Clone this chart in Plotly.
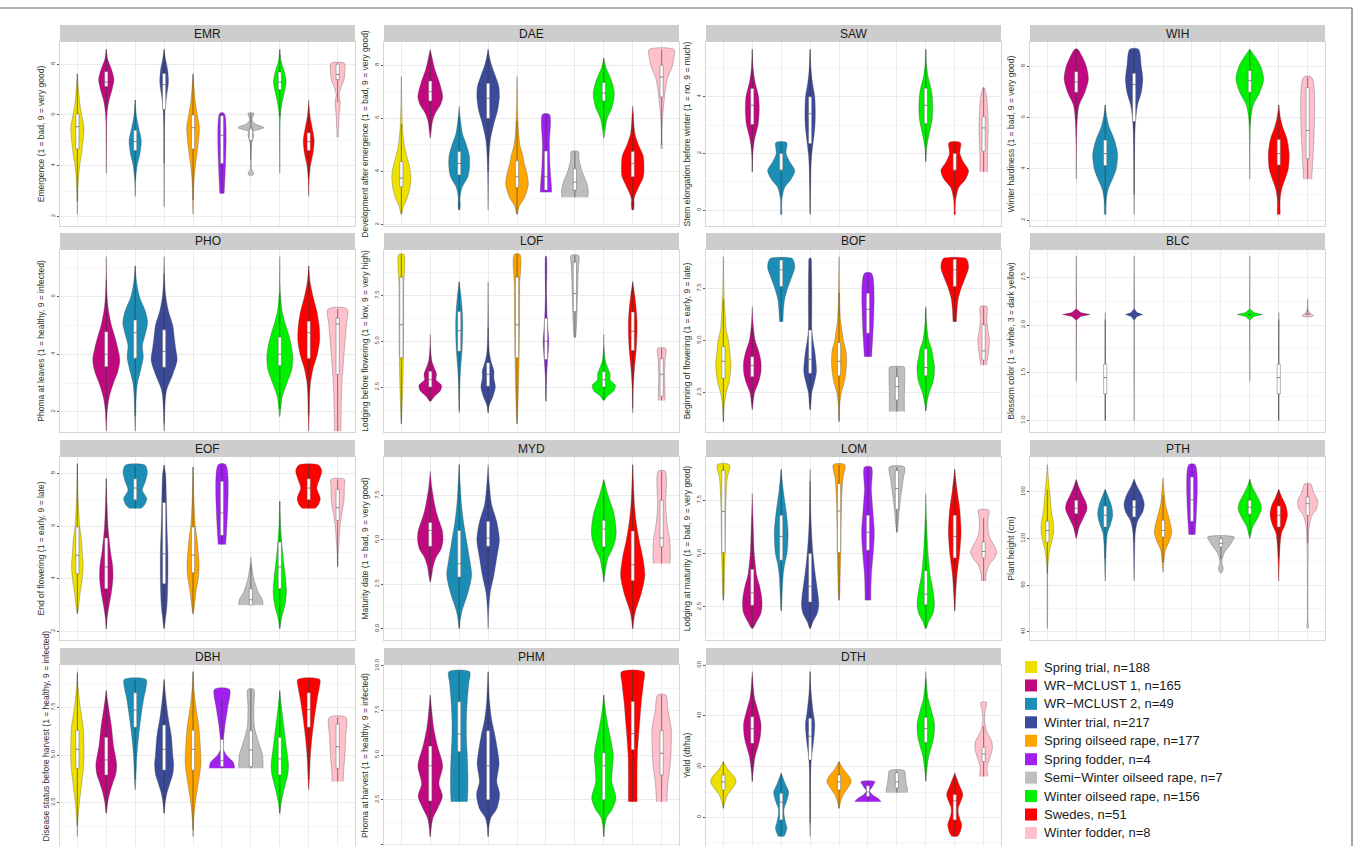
import plotly.graph_objects as go

# ---------------- data ----------------
GROUPS = ["Spring trial", "WR\u2212MCLUST 1", "WR\u2212MCLUST 2", "Winter trial",
          "Spring oilseed rape", "Spring fodder", "Semi\u2212Winter oilseed rape",
          "Winter oilseed rape", "Swedes", "Winter fodder"]
GROUP_N = [188, 165, 49, 217, 177, 4, 7, 156, 51, 8]
COLORS = ["#EEE000", "#C0087F", "#1C8DB5", "#3B4A9B", "#FFA500",
          "#A020F0", "#BEBEBE", "#00F000", "#FF0000", "#FFC0CB"]

TRAITS = ["EMR", "DAE", "SAW", "WIH", "PHO", "LOF", "BOF", "BLC",
          "EOF", "MYD", "LOM", "PTH", "DBH", "PHM", "DTH"]
Y_TITLES = ["Emergence (1 = bad, 9 = very good)",
            "Development after emergence (1 = bad, 9 = very good)",
            "Stem elongation before winter (1 = no, 9 = much)",
            "Winter hardiness (1 = bad, 9 = very good)",
            "Phoma at leaves (1 = healthy, 9 = infected)",
            "Lodging before flowering (1 = low, 9 = very high)",
            "Beginning of flowering (1 = early, 9 = late)",
            "Blossom color (1 = white, 3 = dark yellow)",
            "End of flowering (1 = early, 9 = late)",
            "Maturity date (1 = bad, 9 = very good)",
            "Lodging at maturity (1 = bad, 9 = very good)",
            "Plant height (cm)",
            "Disease status before harvest (1 = healthy, 9 = infected)",
            "Phoma at harvest (1 = healthy, 9 = infected)",
            "Yield (dt/ha)"]
Y_RANGES = [[1.62, 8.88], [1.95, 8.87], [-0.56, 5.93], [1.77, 8.96],
            [1.30, 7.62], [0.05, 9.98], [0.6, 9.35], [0.88, 2.785],
            [1.67, 8.63], [-0.64, 9.66], [0.95, 9.53], [33.1, 190.0],
            [0.21, 9.74], [-0.09, 10.04], [-11.3, 60.1]]
Y_STEPS = [2, 2, 2, 2, 2, 2.5, 2.5, 0.5, 2, 2.5, 2.5, 40, 2.5, 2.5, 20]
Y_FORMATS = ["d", "d", "d", "d", "d", ".1f", ".1f", ".1f", "d", ".1f", ".1f", "d", ".1f", ".1f", "d"]

# violin outlines: group -> (y knots, half widths in category units)
EMR_SHAPES = {
    1: ([2.08, 3.0, 3.5, 4.0, 4.5, 5.0, 5.5, 6.0, 6.5, 7.0, 7.62], [0, .02, .04, .08, .15, .2, .23, .15, .08, .04, 0]),
    2: ([3.7, 5.0, 5.8, 6.2, 6.6, 7.0, 7.4, 7.8, 8.2, 8.59], [0, .008, .015, .04, .1, .2, .265, .18, .05, 0]),
    3: ([2.78, 3.5, 4.0, 4.5, 5.0, 5.5, 6.0, 6.59], [0, .02, .07, .17, .21, .12, .04, 0]),
    4: ([2.38, 4.0, 5.5, 6.2, 6.7, 7.3, 7.8, 8.2, 8.59], [0, .005, .01, .03, .08, .15, .12, .05, 0]),
    5: ([2.08, 3.0, 3.5, 4.0, 4.5, 5.0, 5.5, 6.0, 6.5, 7.0, 7.62], [0, .02, .04, .08, .14, .19, .22, .15, .08, .04, 0]),
    6: ([2.9, 6.07], [.075, .075]),
    7: ([3.59, 3.68, 3.85, 4.1, 4.7, 5.0, 5.2, 5.35, 5.5, 5.65, 5.8, 6.07], [.03, .1, .03, .01, .01, .05, .1, .08, .45, .15, .04, .1]),
    8: ([3.7, 5.0, 5.8, 6.2, 6.6, 7.0, 7.3, 7.7, 8.1, 8.59], [0, .008, .015, .04, .1, .18, .22, .16, .05, 0]),
    9: ([2.78, 3.5, 4.0, 4.5, 5.0, 5.5, 6.0, 6.59], [0, .02, .06, .15, .19, .12, .04, 0]),
    10: ([5.12, 5.3, 5.6, 6.0, 6.5, 6.8, 7.1, 7.4, 7.7, 8.04], [.03, .02, .04, .05, .09, .05, .12, .22, .25, .23]),
}
EMR_BOXES = {1: (4.66, 5.54, 6.04), 2: (7.12, 7.3, 7.71), 3: (4.6, 4.95, 5.4), 4: (6.22, 7.2, 7.64),
             5: (4.66, 5.5, 6.0), 6: (4.09, 5.2, 5.97), 7: (5.0, 5.45, 5.5), 8: (7.0, 7.3, 7.7),
             9: (4.6, 4.95, 5.3), 10: (7.4, 7.6, 8.0)}

DAE_SHAPES = {
    1: ([2.39, 2.7, 3.0, 3.4, 3.8, 4.2, 4.6, 5.0, 5.5, 6.0, 6.5, 7.0, 7.57], [0, .08, .2, .3, .33, .28, .18, .1, .05, .03, .015, .01, 0]),
    2: ([5.25, 5.6, 5.9, 6.2, 6.5, 6.8, 7.1, 7.4, 7.7, 8.0, 8.3, 8.59], [0, .04, .08, .18, .35, .43, .38, .3, .2, .12, .06, 0]),
    3: ([2.55, 2.7, 3.0, 3.4, 3.8, 4.2, 4.6, 5.0, 5.4, 5.8, 6.2, 6.46], [.02, .04, .03, .1, .3, .36, .35, .25, .12, .06, .02, 0]),
    4: ([2.55, 3.5, 4.5, 5.2, 5.8, 6.3, 6.8, 7.2, 7.6, 8.0, 8.3, 8.59], [0, .01, .03, .08, .2, .33, .39, .37, .25, .12, .05, 0]),
    5: ([2.39, 2.7, 3.0, 3.5, 3.9, 4.3, 4.6, 5.0, 5.5, 6.0, 6.5, 7.0, 7.57], [0, .08, .25, .39, .35, .25, .2, .1, .05, .03, .015, .01, 0]),
    6: ([3.22, 3.6, 4.2, 5.0, 6.15], [.2, .18, .14, .12, .12]),
    7: ([3.03, 3.3, 3.6, 4.0, 4.4, 4.75], [.45, .46, .4, .25, .15, .12]),
    8: ([5.25, 5.6, 6.0, 6.4, 6.8, 7.0, 7.3, 7.6, 7.9, 8.26], [0, .05, .12, .28, .36, .36, .3, .2, .08, 0]),
    9: ([2.55, 2.7, 3.0, 3.4, 3.8, 4.2, 4.6, 5.0, 5.4, 5.8, 6.2, 6.46], [.03, .05, .05, .2, .37, .39, .36, .2, .08, .04, .02, 0]),
    10: ([4.85, 5.2, 5.8, 6.4, 7.0, 7.5, 7.9, 8.3, 8.59], [.03, .01, .02, .06, .12, .2, .35, .43, .43]),
}
DAE_BOXES = {1: (3.43, 3.75, 4.37), 2: (6.65, 7.0, 7.4), 3: (3.87, 4.3, 4.75), 4: (6.0, 6.75, 7.32),
             5: (3.4, 3.8, 4.4), 6: (3.3, 3.8, 4.77), 7: (3.3, 3.6, 4.1), 8: (6.65, 6.95, 7.35),
             9: (3.8, 4.3, 4.75), 10: (6.8, 7.55, 8.0)}

SAW_SHAPES = {
    2: ([1.35, 2.0, 2.5, 3.0, 3.5, 4.0, 4.5, 5.0, 5.67], [0, .02, .08, .2, .24, .22, .1, .03, 0]),
    3: ([-0.15, 0.0, 0.4, 0.8, 1.1, 1.4, 1.7, 2.0, 2.38], [.03, .02, .03, .12, .35, .47, .3, .17, .19]),
    4: ([-0.15, 0.5, 1.0, 1.5, 2.0, 2.5, 3.0, 3.5, 4.0, 4.5, 5.0, 5.67], [0, .01, .02, .03, .06, .12, .17, .18, .16, .08, .03, 0]),
    8: ([1.71, 2.2, 2.7, 3.2, 3.7, 4.2, 4.7, 5.2, 5.67], [0, .03, .12, .22, .24, .2, .08, .02, 0]),
    9: ([-0.15, 0.0, 0.4, 0.8, 1.1, 1.4, 1.7, 2.0, 2.38], [.03, .02, .04, .14, .38, .48, .3, .18, .2]),
    10: ([1.35, 2.0, 2.5, 3.0, 3.5, 4.0, 4.32], [.13, .13, .15, .16, .14, .1, .02]),
}
SAW_BOXES = {2: (3.02, 3.7, 4.29), 3: (1.4, 1.42, 2.0), 4: (2.35, 3.4, 4.0),
             8: (3.05, 3.7, 4.3), 9: (1.4, 1.42, 2.0), 10: (2.08, 2.9, 3.29)}

WIH_SHAPES = {
    2: ([3.6, 5.0, 6.0, 6.5, 7.0, 7.5, 8.0, 8.4, 8.68], [0, .01, .04, .1, .3, .42, .35, .2, .05]),
    3: ([2.22, 2.4, 2.8, 3.2, 3.6, 4.0, 4.6, 5.2, 5.6, 6.0, 6.5], [.03, .03, .04, .1, .25, .38, .43, .3, .15, .06, 0]),
    4: ([2.22, 4.0, 5.5, 6.0, 6.5, 7.0, 7.5, 8.0, 8.68], [0, .01, .03, .06, .12, .25, .3, .25, .15]),
    8: ([3.6, 5.0, 6.0, 6.5, 7.0, 7.5, 8.0, 8.4, 8.68], [0, .01, .04, .12, .35, .48, .38, .18, 0]),
    9: ([2.22, 2.4, 2.8, 3.2, 3.6, 4.0, 4.6, 5.2, 5.6, 6.0, 6.5], [.05, .05, .05, .1, .22, .33, .36, .28, .15, .06, 0]),
    10: ([3.6, 7.58], [.14, .14]),
}
WIH_BOXES = {2: (7.0, 7.4, 7.8), 3: (4.13, 4.6, 5.13), 4: (5.85, 7.3, 7.74),
             8: (7.0, 7.45, 7.85), 9: (4.15, 4.6, 5.15), 10: (4.4, 5.5, 7.18)}

PHO_SHAPES = {
    2: ([1.33, 2.0, 2.5, 3.0, 3.4, 3.8, 4.2, 4.6, 5.0, 5.5, 6.0, 6.5, 7.39], [0, .03, .1, .25, .4, .47, .4, .3, .18, .08, .03, .01, 0]),
    3: ([1.33, 2.0, 2.6, 3.0, 3.5, 3.9, 4.3, 4.7, 5.1, 5.5, 6.0, 6.5, 7.07], [0, .02, .04, .08, .2, .28, .25, .35, .43, .35, .15, .05, 0]),
    4: ([1.33, 2.0, 2.5, 2.8, 3.3, 3.8, 4.2, 4.6, 5.0, 5.5, 6.0, 6.5, 7.39], [0, .02, .05, .1, .3, .45, .4, .35, .3, .15, .06, .02, 0]),
    8: ([1.83, 2.5, 3.0, 3.5, 3.9, 4.3, 4.7, 5.1, 5.5, 6.0, 6.5, 7.39], [0, .08, .25, .42, .45, .4, .3, .18, .08, .03, .01, 0]),
    9: ([1.33, 2.0, 2.5, 3.0, 3.5, 4.0, 4.5, 5.0, 5.5, 6.0, 6.5, 7.07], [0, .02, .03, .06, .15, .3, .38, .36, .28, .15, .05, 0]),
    10: ([1.33, 2.0, 3.0, 4.0, 5.0, 5.57], [.11, .12, .15, .22, .3, .33]),
}
PHO_BOXES = {2: (3.57, 4.0, 4.78), 3: (3.86, 4.75, 5.19), 4: (3.55, 4.1, 4.85),
             8: (3.6, 4.0, 4.6), 9: (3.85, 4.75, 5.15), 10: (3.3, 5.05, 5.25)}

LOF_SHAPES = {
    1: ([0.5, 2.0, 4.0, 6.0, 8.0, 9.74], [0, .04, .07, .08, .08, .085]),
    2: ([1.72, 2.0, 2.3, 2.6, 2.9, 3.2, 3.5, 3.9, 4.4, 5.39], [0, .15, .35, .39, .2, .22, .15, .06, .02, 0]),
    3: ([1.1, 2.5, 3.5, 4.5, 5.5, 6.1, 6.8, 7.5, 8.25], [0, .02, .05, .1, .12, .12, .1, .06, 0]),
    4: ([1.1, 1.5, 2.0, 2.5, 3.0, 3.4, 3.8, 4.3, 5.0, 6.0, 7.0, 8.25], [0, .04, .17, .25, .2, .2, .12, .05, .02, .01, .005, 0]),
    5: ([0.5, 2.0, 4.0, 6.0, 8.0, 9.74], [0, .04, .07, .085, .09, .1]),
    6: ([1.72, 3.0, 4.0, 5.0, 6.0, 7.5, 9.65], [0, .02, .06, .1, .05, .02, .01]),
    7: ([5.2, 6.0, 7.0, 8.0, 9.0, 9.68], [.03, .06, .08, .1, .12, .13]),
    8: ([1.77, 2.0, 2.3, 2.6, 2.9, 3.2, 3.5, 3.9, 4.4, 5.39], [0, .12, .35, .4, .22, .22, .15, .06, .02, 0]),
    9: ([1.1, 2.5, 3.5, 4.5, 5.5, 6.1, 6.8, 7.5, 8.25], [0, .02, .06, .12, .15, .15, .12, .07, 0]),
    10: ([1.77, 2.5, 3.2, 4.0, 4.61], [.12, .11, .1, .12, .14]),
}
LOF_BOXES = {1: (4.1, 5.9, 8.5), 2: (2.5, 2.9, 3.36), 3: (4.46, 5.58, 6.62), 4: (2.55, 3.2, 3.83),
             5: (4.1, 5.9, 8.5), 6: (4.01, 5.0, 6.25), 7: (6.62, 7.6, 9.31), 8: (2.5, 2.9, 3.35),
             9: (4.5, 5.55, 6.6), 10: (2.0, 3.2, 4.05)}

BOF_SHAPES = {
    1: ([1.1, 2.0, 2.5, 3.0, 3.5, 4.0, 4.5, 5.0, 5.5, 6.5, 7.5, 9.03], [0, .04, .1, .2, .25, .26, .22, .18, .1, .05, .02, 0]),
    2: ([1.66, 2.0, 2.5, 3.0, 3.5, 4.0, 4.5, 5.0, 5.5, 6.0, 6.63], [0, .03, .08, .22, .3, .3, .22, .1, .05, .02, 0]),
    3: ([5.9, 6.5, 7.0, 7.5, 8.0, 8.5, 8.8, 8.95], [.06, .08, .12, .22, .35, .47, .44, .37]),
    4: ([1.66, 2.0, 2.5, 3.0, 3.5, 4.0, 4.5, 5.0, 5.5, 6.5, 7.5, 8.5, 8.95], [0, .03, .06, .15, .22, .2, .16, .1, .06, .06, .06, .05, .03]),
    5: ([1.1, 2.0, 2.5, 3.0, 3.5, 4.0, 4.5, 5.0, 5.5, 6.0, 7.0, 9.03], [0, .03, .08, .18, .24, .26, .24, .15, .1, .05, .02, 0]),
    6: ([4.22, 8.23], [.125, .125]),
    7: ([1.58, 2.0, 2.5, 3.0, 3.5, 3.71], [.26, .26, .26, .27, .27, .26]),
    8: ([1.61, 2.0, 2.5, 3.0, 3.5, 3.8, 4.2, 4.6, 5.0, 5.5, 6.0, 6.63], [0, .04, .12, .25, .3, .3, .25, .2, .1, .05, .02, 0]),
    9: ([5.9, 6.5, 7.0, 7.5, 8.0, 8.5, 8.8, 8.95], [.06, .08, .12, .22, .36, .48, .45, .38]),
    10: ([3.82, 4.2, 4.6, 5.0, 5.5, 6.0, 6.63], [.1, .14, .18, .2, .15, .11, .11]),
}
BOF_BOXES = {1: (3.18, 4.0, 4.7), 2: (3.26, 3.8, 4.22), 3: (7.59, 8.4, 8.87), 4: (3.42, 4.1, 5.5),
             5: (3.3, 4.0, 4.9), 6: (5.35, 6.5, 7.27), 7: (2.14, 2.78, 3.26), 8: (3.3, 3.7, 4.6),
             9: (7.6, 8.4, 8.9), 10: (4.06, 4.5, 5.75)}

BLC_SHAPES = {
    2: ([1.41, 2.05, 2.09, 2.11, 2.13, 2.17, 2.72], [0, .005, .15, .48, .15, .005, 0]),
    3: ([1.0, 2.13], [.004, .004]),
    4: ([1.0, 2.05, 2.09, 2.11, 2.13, 2.17, 2.72], [0, .005, .1, .3, .1, .005, 0]),
    8: ([1.41, 2.05, 2.09, 2.11, 2.13, 2.17, 2.72], [0, .005, .14, .44, .14, .005, 0]),
    9: ([1.0, 2.13], [.004, .004]),
    10: ([2.08, 2.1, 2.12, 2.15, 2.27], [.1, .2, .1, .02, 0]),
}
BLC_BOXES = {2: (2.11, 2.11, 2.11), 3: (1.28, 1.45, 1.59), 4: (2.11, 2.11, 2.11),
             8: (2.11, 2.11, 2.11), 9: (1.28, 1.45, 1.59), 10: (2.09, 2.11, 2.12)}

EOF_SHAPES = {
    1: ([2.67, 3.0, 3.5, 4.0, 4.5, 5.0, 5.5, 6.0, 7.0, 8.38], [0, .05, .1, .17, .2, .17, .14, .08, .03, 0]),
    2: ([2.1, 2.5, 3.0, 3.5, 4.0, 4.5, 5.0, 5.5, 6.0, 7.0, 7.81], [0, .03, .1, .18, .23, .22, .15, .1, .06, .02, 0]),
    3: ([6.67, 6.8, 7.05, 7.37, 7.7, 8.06, 8.32], [.2, .32, .4, .25, .35, .42, .34]),
    4: ([2.1, 2.5, 3.0, 4.0, 5.0, 6.0, 7.0, 8.0, 8.32], [0, .05, .1, .13, .13, .1, .08, .05, 0]),
    5: ([2.67, 3.0, 3.5, 4.0, 4.5, 5.0, 5.5, 6.0, 7.0, 8.25], [0, .05, .1, .18, .21, .18, .14, .08, .03, 0]),
    6: ([5.3, 8.34], [.13, .13]),
    7: ([3.0, 3.2, 3.5, 4.0, 4.4, 4.83], [.42, .4, .25, .1, .04, 0]),
    8: ([2.1, 2.5, 3.0, 3.5, 4.0, 4.5, 5.0, 5.5, 6.0, 6.95], [0, .06, .18, .23, .2, .15, .1, .06, .03, 0]),
    9: ([6.67, 6.8, 7.05, 7.45, 7.8, 8.1, 8.32], [.22, .33, .4, .28, .38, .45, .35]),
    10: ([4.45, 5.0, 5.5, 6.0, 6.5, 7.0, 7.5, 7.78], [0, .02, .05, .08, .15, .22, .23, .23]),
}
EOF_BOXES = {1: (4.19, 4.89, 5.97), 2: (3.62, 4.45, 5.55), 3: (7.0, 7.45, 7.8), 4: (3.81, 4.95, 6.9),
             5: (4.23, 4.9, 5.97), 6: (5.65, 6.5, 7.71), 7: (3.0, 3.2, 3.62), 8: (3.62, 4.45, 5.4),
             9: (7.0, 7.45, 7.8), 10: (6.22, 6.7, 7.4)}

MYD_SHAPES = {
    2: ([2.63, 3.0, 3.5, 4.0, 4.5, 5.0, 5.5, 6.0, 6.5, 7.0, 8.0, 8.86], [0, .05, .1, .2, .38, .44, .42, .32, .22, .15, .05, 0]),
    3: ([0, 0.5, 1.0, 2.0, 3.0, 4.0, 5.0, 6.0, 7.0, 8.0, 9.23], [0, .04, .1, .3, .43, .35, .25, .15, .08, .04, 0]),
    4: ([0, 1.0, 2.0, 3.0, 4.0, 5.0, 6.0, 7.0, 8.0, 9.23], [0, .02, .07, .2, .3, .39, .3, .12, .05, 0]),
    8: ([2.63, 3.0, 3.5, 4.0, 4.5, 5.0, 5.5, 6.5, 7.5, 8.4], [0, .03, .08, .15, .3, .4, .43, .35, .15, 0]),
    9: ([0, 0.5, 1.0, 2.0, 3.0, 4.0, 5.0, 6.0, 7.0, 8.0, 9.23], [0, .04, .1, .3, .42, .35, .22, .12, .06, .03, 0]),
    10: ([3.66, 4.0, 5.0, 6.0, 7.0, 8.86], [.28, .3, .28, .18, .14, .12]),
}
MYD_BOXES = {2: (4.63, 5.53, 5.97), 3: (2.9, 3.66, 5.53), 4: (4.63, 5.1, 6.04),
             8: (4.6, 5.6, 6.1), 9: (2.7, 3.6, 5.5), 10: (4.6, 5.1, 7.22)}

LOM_SHAPES = {
    1: ([2.81, 3.0, 4.0, 5.0, 6.0, 7.5, 8.5, 9.17], [0, .02, .04, .06, .07, .09, .13, .21]),
    2: ([1.48, 1.8, 2.2, 2.6, 3.0, 3.5, 4.0, 5.0, 6.0, 7.81], [0, .15, .3, .34, .32, .25, .15, .07, .04, 0]),
    3: ([2.31, 3.0, 4.0, 4.5, 5.0, 6.0, 7.0, 8.0, 8.95], [0, .03, .07, .12, .2, .24, .17, .07, 0]),
    4: ([1.48, 1.8, 2.2, 2.6, 3.0, 4.0, 5.0, 6.0, 7.0, 8.95], [0, .1, .25, .3, .28, .18, .1, .05, .02, 0]),
    5: ([2.81, 3.0, 4.0, 5.0, 6.0, 7.5, 8.5, 9.17], [0, .02, .04, .06, .07, .09, .13, .2]),
    6: ([2.81, 3.0, 4.0, 5.0, 6.0, 7.0, 8.0, 9.06], [.1, .1, .12, .18, .22, .17, .12, .12]),
    7: ([6.0, 6.5, 7.0, 7.5, 8.0, 8.5, 9.06], [0, .05, .08, .12, .17, .22, .26]),
    8: ([1.48, 1.8, 2.2, 2.6, 3.0, 3.5, 4.0, 5.0, 6.0, 7.81], [0, .1, .25, .3, .28, .22, .15, .08, .04, 0]),
    9: ([2.31, 3.0, 4.0, 5.0, 6.0, 7.0, 8.0, 8.95], [0, .03, .08, .17, .22, .18, .08, 0]),
    10: ([3.72, 4.0, 4.5, 4.8, 5.1, 5.4, 5.8, 6.2, 6.6, 7.03], [.08, .08, .2, .38, .45, .35, .2, .15, .15, .18]),
}
LOM_BOXES = {1: (5.05, 6.98, 8.9), 2: (2.58, 3.16, 4.27), 3: (4.69, 5.8, 6.8), 4: (2.73, 3.47, 5.0),
             5: (5.05, 7.0, 8.28), 6: (5.16, 6.0, 6.8), 7: (7.08, 8.05, 8.9), 8: (2.6, 3.1, 4.2),
             9: (4.8, 5.8, 6.8), 10: (4.8, 5.1, 5.55)}

PTH_SHAPES = {
    1: ([42.9, 60, 90, 100, 110, 120, 127, 135, 145, 155, 170, 183.4], [0, .01, .01, .03, .08, .18, .22, .2, .13, .1, .04, 0]),
    2: ([120, 125, 130, 138, 145, 150, 158, 165, 170.9], [0, .05, .1, .25, .37, .35, .2, .08, 0]),
    3: ([83.7, 100, 115, 125, 132, 140, 148, 155, 162.3], [0, .02, .04, .08, .18, .26, .22, .12, 0]),
    4: ([83.7, 110, 125, 135, 143, 150, 158, 165, 170.9], [0, .02, .04, .12, .3, .35, .25, .1, 0]),
    5: ([91.4, 100, 110, 118, 125, 130, 140, 150, 160, 172], [0, .03, .08, .22, .3, .28, .18, .08, .04, 0]),
    6: ([123.4, 183.4], [.11, .11]),
    7: ([90.6, 92, 95, 98, 103, 108, 114, 118, 121.4], [0, .06, .08, .04, .05, .12, .3, .4, .46]),
    8: ([120, 125, 130, 138, 145, 150, 158, 165, 170.9], [0, .05, .1, .28, .4, .38, .22, .08, 0]),
    9: ([83.7, 100, 115, 125, 132, 140, 148, 155, 162.3], [0, .02, .05, .1, .22, .3, .25, .12, 0]),
    10: ([42.9, 45, 50, 60, 110, 130, 140, 145, 152, 160, 167], [.02, .03, .01, .01, .02, .05, .15, .3, .35, .2, .1]),
}
PTH_BOXES = {1: (117, 127, 135), 2: (141.4, 146, 152.9), 3: (130, 140, 148), 4: (138.6, 147, 153),
             5: (121.4, 127, 135.7), 6: (134.9, 153.4, 172.9), 7: (112.9, 116, 120), 8: (141, 147, 153),
             9: (130, 140, 148), 10: (140, 150, 155.7)}

DBH_SHAPES = {
    1: ([0.7, 1.5, 2.5, 3.5, 4.5, 5.5, 6.5, 7.5, 8.5, 9.39], [0, .02, .07, .15, .22, .23, .2, .1, .03, 0]),
    2: ([1.93, 2.5, 3.0, 3.5, 4.0, 4.5, 5.5, 6.5, 7.5, 8.39], [0, .05, .12, .22, .33, .36, .25, .18, .08, 0]),
    3: ([3.16, 4.0, 5.0, 6.0, 7.0, 8.0, 8.5, 8.98], [0, .03, .06, .12, .2, .3, .37, .38]),
    4: ([1.93, 2.5, 3.0, 3.5, 4.0, 4.5, 5.0, 6.0, 7.0, 8.0, 8.98], [0, .04, .1, .2, .3, .33, .3, .25, .14, .06, 0]),
    5: ([0.7, 1.5, 2.5, 3.5, 4.5, 5.5, 6.5, 7.5, 8.5, 9.39], [0, .02, .08, .18, .27, .25, .2, .1, .03, 0]),
    6: ([4.3, 4.6, 5.0, 5.3, 5.5, 6.5, 7.5, 8.46], [.44, .4, .15, .05, .04, .1, .2, .26]),
    7: ([4.3, 4.6, 5.0, 5.5, 6.0, 6.5, 7.5, 8.46], [.42, .42, .4, .3, .2, .12, .1, .1]),
    8: ([1.93, 2.5, 3.0, 3.5, 4.0, 4.5, 5.5, 6.5, 7.5, 8.39], [0, .05, .12, .2, .28, .3, .22, .14, .06, 0]),
    9: ([3.16, 4.0, 5.0, 6.0, 7.0, 8.0, 8.5, 8.98], [0, .03, .06, .12, .2, .3, .36, .38]),
    10: ([3.6, 4.0, 5.0, 6.0, 6.98], [.19, .2, .25, .28, .29]),
}
DBH_BOXES = {1: (4.3, 5.3, 6.3), 2: (3.95, 4.74, 5.93), 3: (6.46, 7.37, 8.28), 4: (4.21, 5.3, 6.58),
             5: (4.2, 5.3, 6.3), 6: (4.39, 4.7, 5.82), 7: (4.4, 5.26, 6.28), 8: (3.95, 4.8, 5.93),
             9: (6.46, 7.4, 8.28), 10: (4.3, 5.44, 6.63)}

PHM_SHAPES = {
    2: ([0.43, 1.0, 1.5, 2.0, 2.7, 3.4, 4.4, 5.5, 6.5, 7.5, 8.36], [0, .04, .1, .25, .42, .3, .43, .25, .12, .05, 0]),
    3: ([2.39, 3.0, 4.0, 5.0, 6.0, 7.0, 8.0, 9.0, 9.66], [.28, .3, .3, .28, .25, .25, .28, .33, .36]),
    4: ([0.43, 1.0, 1.5, 2.0, 2.8, 3.5, 4.5, 5.0, 6.0, 7.0, 8.0, 9.66], [0, .03, .1, .3, .4, .3, .38, .35, .25, .12, .05, 0]),
    8: ([0.43, 1.0, 1.5, 2.0, 2.6, 3.5, 4.3, 5.0, 5.8, 6.6, 7.5, 8.36], [0, .03, .1, .3, .42, .28, .3, .33, .25, .15, .06, 0]),
    9: ([2.39, 3.0, 4.0, 5.0, 6.0, 7.0, 8.0, 9.0, 9.66], [.15, .15, .15, .16, .2, .25, .3, .37, .39]),
    10: ([2.39, 3.5, 4.5, 5.5, 6.5, 7.5, 8.36], [.18, .22, .3, .33, .33, .22, .14]),
}
PHM_BOXES = {2: (2.43, 4.4, 5.5), 3: (5.19, 6.18, 7.99), 4: (2.5, 4.4, 6.36),
             8: (2.5, 4.4, 5.13), 9: (5.3, 6.2, 8.0), 10: (3.88, 5.1, 6.36)}

DTH_SHAPES = {
    1: ([3.55, 6, 9, 12, 14, 16, 19, 22], [0, .05, .15, .35, .44, .38, .15, 0]),
    2: ([14.1, 17, 20, 24, 28, 32, 37, 42, 47, 52, 57.5], [0, .02, .05, .1, .2, .28, .3, .2, .08, .03, 0]),
    3: ([-7.6, -6, -4.3, -2, 1, 3.6, 6, 10, 13, 17.4], [.1, .16, .2, .15, .1, .1, .18, .26, .15, 0]),
    4: ([-7.6, 0, 10, 18, 24, 30, 37, 42, 50, 57.5], [0, .01, .015, .02, .05, .12, .16, .1, .03, 0]),
    5: ([3.55, 6, 9, 12, 14, 16, 19, 22], [0, .05, .15, .33, .42, .36, .15, 0]),
    6: ([6.2, 7.5, 9, 10.5, 12, 14.1], [.46, .35, .15, .06, .15, .24]),
    7: ([9.7, 11, 13, 16, 18.4], [.35, .37, .33, .3, .26]),
    8: ([14.1, 17, 20, 24, 28, 32, 37, 42, 47, 52, 57.5], [0, .02, .05, .1, .2, .28, .3, .2, .08, .03, 0]),
    9: ([-7.6, -6, -3, 0, 2, 4, 6, 9, 13, 17.4], [.1, .18, .24, .16, .12, .13, .2, .28, .15, 0]),
    10: ([16.1, 20, 23, 27, 30, 34, 38, 42, 45.3], [.14, .12, .2, .3, .28, .1, .03, .05, .1]),
}
DTH_BOXES = {1: (10.8, 14, 16.7), 2: (29.2, 35, 39.7), 3: (-1, 6, 9.5), 4: (22.6, 32, 39.1),
             5: (10.8, 14, 16.7), 6: (8.2, 10, 12.5), 7: (11.6, 14, 17.6), 8: (29.5, 35, 39.5),
             9: (-1, 6.5, 9), 10: (22, 25, 27.6)}

PANEL_DATA = {
    "EMR": (EMR_SHAPES, EMR_BOXES), "DAE": (DAE_SHAPES, DAE_BOXES),
    "SAW": (SAW_SHAPES, SAW_BOXES), "WIH": (WIH_SHAPES, WIH_BOXES),
    "PHO": (PHO_SHAPES, PHO_BOXES), "LOF": (LOF_SHAPES, LOF_BOXES),
    "BOF": (BOF_SHAPES, BOF_BOXES), "BLC": (BLC_SHAPES, BLC_BOXES),
    "EOF": (EOF_SHAPES, EOF_BOXES), "MYD": (MYD_SHAPES, MYD_BOXES),
    "LOM": (LOM_SHAPES, LOM_BOXES), "PTH": (PTH_SHAPES, PTH_BOXES),
    "DBH": (DBH_SHAPES, DBH_BOXES), "PHM": (PHM_SHAPES, PHM_BOXES),
    "DTH": (DTH_SHAPES, DTH_BOXES),
}

# ---------------- layout (pixels) ----------------
W, H = 1358, 846
COLS_PX = [(60, 355), (384, 679), (706, 1001), (1030, 1325)]
ROWS_PX = [(42, 226), (250, 432), (457, 640), (665, 846)]
STRIP_H = 17
BOX_HALF = 0.055
FONT = "Liberation Sans, Arial, sans-serif"
TITLE_FONT = dict(size=8.5, color="#333333", family=FONT)

fig = go.Figure()
shapes = []
annotations = []

for i, trait in enumerate(TRAITS):
    r, c = divmod(i, 4)
    px0, px1 = COLS_PX[c]
    py0, py1 = ROWS_PX[r]
    sfx = "" if i == 0 else str(i + 1)
    xref, yref = "x" + sfx, "y" + sfx
    shapes_d, boxes_d = PANEL_DATA[trait]
    spike = trait == "BLC"

    # violins
    for g in sorted(shapes_d):
        ys, ws = shapes_d[g]
        xs_right = [g + w for w in ws]
        xs_left = [g - w for w in ws][::-1]
        fig.add_trace(go.Scatter(
            x=xs_right + xs_left, y=list(ys) + list(ys)[::-1],
            mode="lines", fill="toself", fillcolor=COLORS[g - 1],
            line=dict(color="rgba(70,70,70,0.55)", width=0.6,
                      shape="linear" if spike else "spline", smoothing=0.8),
            showlegend=False, hoverinfo="skip", xaxis=xref, yaxis=yref))

    # inner boxplots (whiskers, boxes, medians)
    wx, wy, bx, by, mx, my = [], [], [], [], [], []
    for g in sorted(boxes_d):
        q1, med, q3 = boxes_d[g]
        ys = shapes_d[g][0]
        iqr = q3 - q1
        lo = max(min(ys), q1 - 1.5 * iqr)
        hi = min(max(ys), q3 + 1.5 * iqr)
        wx += [g, g, None, g, g, None]
        wy += [lo, q1, None, q3, hi, None]
        bx += [g - BOX_HALF, g + BOX_HALF, g + BOX_HALF, g - BOX_HALF, g - BOX_HALF, None]
        by += [q1, q1, q3, q3, q1, None]
        mx += [g - BOX_HALF, g + BOX_HALF, None]
        my += [med, med, None]
    fig.add_trace(go.Scatter(x=wx, y=wy, mode="lines", line=dict(color="#333333", width=0.6),
                             showlegend=False, hoverinfo="skip", xaxis=xref, yaxis=yref))
    fig.add_trace(go.Scatter(x=bx, y=by, mode="lines", fill="toself", fillcolor="white",
                             line=dict(color="#666666", width=0.5),
                             showlegend=False, hoverinfo="skip", xaxis=xref, yaxis=yref))
    fig.add_trace(go.Scatter(x=mx, y=my, mode="lines", line=dict(color="#555555", width=0.7),
                             showlegend=False, hoverinfo="skip", xaxis=xref, yaxis=yref))

    xd = [px0 / W, px1 / W]
    yd = [max(0.0, 1 - py1 / H), 1 - py0 / H]
    step = Y_STEPS[i]
    # the bottom-row long title would run off the page: place it as an annotation instead
    long_bottom = (r == 3 and len(Y_TITLES[i]) > 50)
    fig.layout["xaxis" + sfx] = dict(
        domain=xd, anchor=yref, range=[0.4, 10.6], tickvals=list(range(1, 11)),
        showticklabels=False, ticks="", showgrid=True, gridcolor="#EBEBEB", gridwidth=1,
        zeroline=False, showline=True, mirror=True, linecolor="#D6D6D6", linewidth=1,
        fixedrange=True)
    fig.layout["yaxis" + sfx] = dict(
        domain=yd, anchor=xref, range=Y_RANGES[i], tick0=0, dtick=step,
        tickformat=Y_FORMATS[i], tickangle=-90,
        tickfont=dict(size=6, color="#4D4D4D", family=FONT),
        ticks="outside", ticklen=2, tickcolor="#555555", tickwidth=0.6,
        showgrid=True, gridcolor="#EBEBEB", gridwidth=1,
        minor=dict(tick0=0, dtick=step / 2, showgrid=True, gridcolor="#F5F5F5", gridwidth=0.6, ticks=""),
        zeroline=False, showline=True, mirror=True, linecolor="#D6D6D6", linewidth=1,
        automargin=False, fixedrange=True,
        title=dict(text="" if long_bottom else Y_TITLES[i], font=TITLE_FONT, standoff=3))
    if long_bottom:
        annotations.append(dict(xref="paper", yref="paper", x=(px0 - 15) / W, y=1 - 844 / H,
                                text=Y_TITLES[i], textangle=-90, showarrow=False,
                                xanchor="center", yanchor="bottom", font=TITLE_FONT))

    # facet strip
    shapes.append(dict(type="rect", xref="paper", yref="paper",
                       x0=px0 / W, x1=px1 / W, y0=1 - py0 / H, y1=1 - (py0 - STRIP_H) / H,
                       fillcolor="#CDCDCD", line=dict(width=0), layer="above"))
    annotations.append(dict(xref="paper", yref="paper", x=(px0 + px1) / 2 / W,
                            y=1 - (py0 - STRIP_H / 2) / H, text=trait, showarrow=False,
                            xanchor="center", yanchor="middle",
                            font=dict(size=12, color="#1A1A1A", family=FONT)))

# legend (keys + labels)
LEG_X0, LEG_Y0, LEG_DY, KEY = 1025, 667, 18.44, 12
for k, (name, n, col) in enumerate(zip(GROUPS, GROUP_N, COLORS)):
    yc = LEG_Y0 + k * LEG_DY
    shapes.append(dict(type="rect", xref="paper", yref="paper",
                       x0=LEG_X0 / W, x1=(LEG_X0 + KEY) / W,
                       y0=1 - (yc + KEY / 2) / H, y1=1 - (yc - KEY / 2) / H,
                       fillcolor=col, line=dict(width=0)))
    annotations.append(dict(xref="paper", yref="paper", x=(LEG_X0 + KEY + 5) / W, y=1 - yc / H,
                            text=f"{name}, n={n}", showarrow=False, xanchor="left", yanchor="middle",
                            font=dict(size=13, color="#1A1A1A", family=FONT)))

# outer frame lines
shapes.append(dict(type="line", xref="paper", yref="paper", x0=0, x1=1352 / W,
                   y0=1 - 8 / H, y1=1 - 8 / H, line=dict(color="#666666", width=1.2)))
shapes.append(dict(type="line", xref="paper", yref="paper", x0=1352 / W, x1=1352 / W,
                   y0=0, y1=1 - 8 / H, line=dict(color="#666666", width=1.2)))

fig.update_layout(
    width=W, height=H, margin=dict(l=0, r=0, t=0, b=0),
    paper_bgcolor="white", plot_bgcolor="white",
    font=dict(family=FONT, color="#1A1A1A"),
    shapes=shapes, annotations=annotations, showlegend=False,
)

fig.write_html("out.html", config={"displayModeBar": False},
               post_script="document.body.style.margin='0px';")
